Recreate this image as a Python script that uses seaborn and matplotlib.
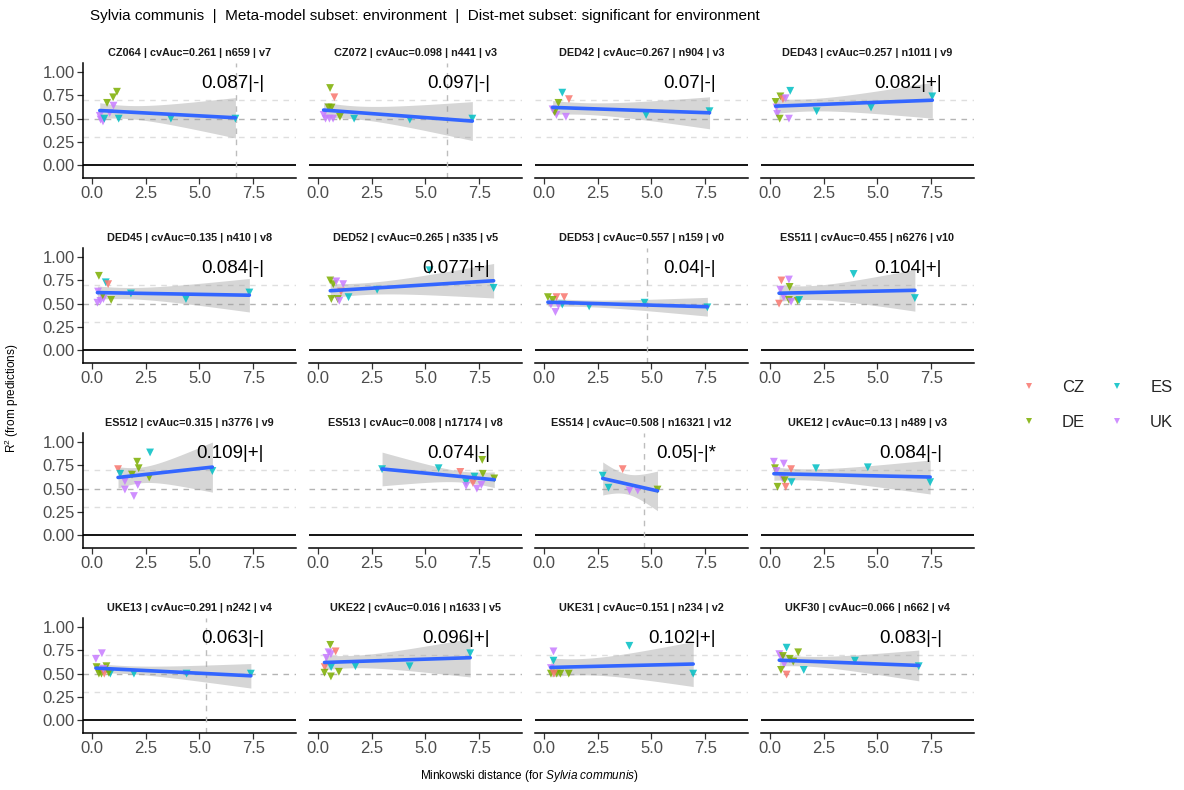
import numpy as np
import pandas as pd
import matplotlib
matplotlib.use("Agg")
import matplotlib.pyplot as plt
import seaborn as sns
from matplotlib.lines import Line2D

# ---------------- data ----------------
countries = ["CZ", "DE", "ES", "UK"]
country_colors = ["#F8766D", "#7CAE00", "#00BFC4", "#C77CFF"]
code_map = {"C": "CZ", "D": "DE", "E": "ES", "U": "UK"}

panels = ["CZ064", "CZ072", "DED42", "DED43", "DED45", "DED52", "DED53", "ES511",
          "ES512", "ES513", "ES514", "UKE12", "UKE13", "UKE22", "UKE31", "UKF30"]
cv_auc = ["0.261", "0.098", "0.267", "0.257", "0.135", "0.265", "0.557", "0.455",
          "0.315", "0.008", "0.508", "0.13", "0.291", "0.016", "0.151", "0.066"]
n_obs = [659, 441, 904, 1011, 410, 335, 159, 6276, 3776, 17174, 16321, 489, 242, 1633, 234, 662]
n_vars = [7, 3, 3, 9, 8, 5, 0, 10, 9, 8, 12, 3, 4, 5, 2, 4]
annot = ["0.087|-|", "0.097|-|", "0.07|-|", "0.082|+|", "0.084|-|", "0.077|+|", "0.04|-|", "0.104|+|",
         "0.109|+|", "0.074|-|", "0.05|-|*", "0.084|-|", "0.063|-|", "0.096|+|", "0.102|+|", "0.083|-|"]
vlines = [6.7, 6.0, None, None, None, None, 4.77, None, None, None, 4.63, None, 5.29, None, None, None]

x_CZ064 = [0.36, 0.40, 0.51, 0.57, 0.70, 0.82, 0.98, 1.00, 1.16, 1.24, 3.67, 6.67]
y_CZ064 = [0.53, 0.49, 0.47, 0.50, 0.67, 0.56, 0.73, 0.64, 0.79, 0.50, 0.50, 0.50]
c_CZ064 = "UUUEDUDUDEEE"

x_CZ072 = [0.56, 0.76, 0.49, 0.63, 0.35, 0.53, 0.70, 1.02, 1.68, 4.27, 7.18, 0.26]
y_CZ072 = [0.83, 0.73, 0.62, 0.62, 0.50, 0.50, 0.50, 0.52, 0.50, 0.49, 0.50, 0.54]
c_CZ072 = "DCDDUUUDEEEU"

x_DED42 = [0.85, 1.16, 0.67, 0.46, 0.58, 1.02, 0.50, 0.40, 4.75, 7.70]
y_DED42 = [0.78, 0.71, 0.67, 0.59, 0.54, 0.52, 0.57, 0.60, 0.54, 0.58]
c_DED42 = "ECDDUUDUEE"

x_DED43 = [0.26, 0.48, 0.60, 0.73, 0.94, 0.33, 0.45, 0.88, 0.30, 2.17, 4.70, 7.55]
y_DED43 = [0.68, 0.74, 0.71, 0.72, 0.80, 0.55, 0.50, 0.50, 0.62, 0.58, 0.62, 0.74]
c_DED43 = "DDCUEUDUUEEE"

x_DED45 = [0.32, 0.64, 0.75, 0.25, 0.39, 0.53, 0.89, 0.28, 0.50, 1.81, 4.37, 7.32]
y_DED45 = [0.80, 0.73, 0.71, 0.51, 0.53, 0.55, 0.54, 0.63, 0.59, 0.61, 0.55, 0.62]
c_DED45 = "DECUUUDUDEEE"

x_DED52 = [0.57, 0.71, 0.85, 1.17, 1.07, 0.62, 0.92, 0.99, 1.42, 2.75, 5.19, 8.17]
y_DED52 = [0.75, 0.71, 0.74, 0.71, 0.63, 0.55, 0.55, 0.53, 0.57, 0.65, 0.86, 0.67]
c_DED52 = "DDUUCDDUEEEE"

x_DED53 = [0.18, 0.58, 0.32, 0.53, 0.94, 0.85, 0.67, 0.40, 2.10, 4.68, 7.60]
y_DED53 = [0.57, 0.57, 0.49, 0.41, 0.57, 0.49, 0.48, 0.54, 0.47, 0.51, 0.46]
c_DED53 = "DCUUCEUDEEE"

x_ES511 = [0.53, 0.88, 0.91, 0.48, 0.64, 0.42, 0.88, 0.98, 1.29, 1.36, 3.89, 6.74]
y_ES511 = [0.75, 0.76, 0.68, 0.65, 0.57, 0.50, 0.54, 0.52, 0.53, 0.54, 0.82, 0.56]
c_ES511 = "CUDUUCDUDEEE"

x_ES512 = [1.21, 1.31, 1.53, 1.53, 2.10, 2.17, 1.95, 2.13, 2.66, 2.70, 5.60, 1.86]
y_ES512 = [0.71, 0.66, 0.58, 0.49, 0.79, 0.72, 0.42, 0.54, 0.62, 0.89, 0.69, 0.65]
c_ES512 = "CEUUDDUUDEED"

x_ES513 = [2.98, 5.61, 6.62, 6.89, 6.89, 7.21, 7.39, 7.60, 7.67, 7.64, 8.20, 7.28]
y_ES513 = [0.71, 0.72, 0.68, 0.57, 0.53, 0.56, 0.50, 0.54, 0.66, 0.81, 0.61, 0.63]
c_ES513 = "EECEUCUUDDDE"

x_ES514 = [2.73, 3.00, 3.66, 3.98, 4.36, 5.28]
y_ES514 = [0.64, 0.51, 0.71, 0.48, 0.48, 0.49]
c_ES514 = "EECUUD"

x_UKE12 = [0.18, 0.64, 0.23, 0.98, 0.58, 0.68, 1.00, 0.35, 0.73, 2.14, 4.55, 7.45, 0.30]
y_UKE12 = [0.79, 0.77, 0.72, 0.71, 0.61, 0.59, 0.57, 0.52, 0.52, 0.72, 0.73, 0.57, 0.69]
c_UKE12 = "UUDCUDEDCEEEU"

x_UKE13 = [0.18, 0.46, 0.21, 0.32, 0.44, 0.57, 0.67, 0.53, 0.85, 1.95, 4.40, 7.39, 0.78]
y_UKE13 = [0.66, 0.72, 0.57, 0.50, 0.50, 0.50, 0.58, 0.55, 0.50, 0.50, 0.50, 0.50, 0.51]
c_UKE13 = "UUDDDCDUEEEED"

x_UKE22 = [0.57, 0.49, 0.60, 0.82, 0.39, 0.31, 0.61, 0.30, 0.60, 0.97, 1.74, 4.26, 7.08]
y_UKE22 = [0.81, 0.73, 0.71, 0.74, 0.67, 0.57, 0.57, 0.51, 0.47, 0.52, 0.58, 0.58, 0.72]
c_UKE22 = "DUUCUCEDDDEEE"

x_UKE31 = [0.44, 0.44, 0.32, 0.32, 0.59, 0.76, 1.15, 0.46, 3.97, 6.94]
y_UKE31 = [0.74, 0.64, 0.56, 0.50, 0.50, 0.50, 0.50, 0.50, 0.80, 0.50]
c_UKE31 = "UEUDDDDCEE"

x_UKF30 = [0.43, 0.54, 0.77, 1.31, 0.92, 0.66, 1.08, 0.51, 0.77, 1.57, 3.95, 6.92, 0.60]
y_UKF30 = [0.71, 0.67, 0.78, 0.73, 0.66, 0.60, 0.63, 0.54, 0.49, 0.54, 0.64, 0.58, 0.69]
c_UKF30 = "UUEDDUDDCEEED"

panel_x = [x_CZ064, x_CZ072, x_DED42, x_DED43, x_DED45, x_DED52, x_DED53, x_ES511,
           x_ES512, x_ES513, x_ES514, x_UKE12, x_UKE13, x_UKE22, x_UKE31, x_UKF30]
panel_y = [y_CZ064, y_CZ072, y_DED42, y_DED43, y_DED45, y_DED52, y_DED53, y_ES511,
           y_ES512, y_ES513, y_ES514, y_UKE12, y_UKE13, y_UKE22, y_UKE31, y_UKF30]
panel_c = [c_CZ064, c_CZ072, c_DED42, c_DED43, c_DED45, c_DED52, c_DED53, c_ES511,
           c_ES512, c_ES513, c_ES514, c_UKE12, c_UKE13, c_UKE22, c_UKE31, c_UKF30]

x_ticks = [0, 2.5, 5, 7.5]
x_ticklabels = ["0.0", "2.5", "5.0", "7.5"]
y_ticks = [0, 0.25, 0.5, 0.75, 1.0]
y_ticklabels = ["0.00", "0.25", "0.50", "0.75", "1.00"]

rows = []
for name, xs, ys, cs in zip(panels, panel_x, panel_y, panel_c):
    for xv, yv, cv in zip(xs, ys, cs):
        rows.append((name, xv, yv, code_map[cv]))
df = pd.DataFrame(rows, columns=["panel", "dist", "r2", "country"])

# t quantiles (0.975) by residual degrees of freedom
T975 = {2: 4.303, 3: 3.182, 4: 2.776, 5: 2.571, 6: 2.447, 7: 2.365, 8: 2.306,
        9: 2.262, 10: 2.228, 11: 2.201, 12: 2.179, 13: 2.160, 14: 2.145}


def lm_band(x, y, grid):
    x = np.asarray(x, float); y = np.asarray(y, float)
    n = len(x)
    X = np.column_stack([np.ones(n), x])
    beta = np.linalg.lstsq(X, y, rcond=None)[0]
    resid = y - X @ beta
    s2 = resid @ resid / (n - 2)
    XtXi = np.linalg.inv(X.T @ X)
    G = np.column_stack([np.ones_like(grid), grid])
    se = np.sqrt(np.einsum("ij,jk,ik->i", G, XtXi, G) * s2)
    fit = G @ beta
    t = T975[n - 2]
    return fit - t * se, fit + t * se


# ---------------- style ----------------
sns.set_style("white")
plt.rcParams["font.family"] = ["Liberation Sans", "DejaVu Sans"]
plt.rcParams["mathtext.fontset"] = "custom"
plt.rcParams["mathtext.rm"] = "Liberation Sans"
plt.rcParams["mathtext.it"] = "Liberation Sans:italic"

W, H = 1184, 790
fig = plt.figure(figsize=(W / 100, H / 100), dpi=100)
fig.patch.set_facecolor("white")

col_left = [83, 309, 535, 761]
row_top = [63, 248, 433, 618]
panel_w, panel_h = 213, 115
XLIM = (-0.42, 9.49)
YLIM = (-0.14, 1.10)
dash = (0, (4, 4))

for i, name in enumerate(panels):
    r, c = divmod(i, 4)
    ax = fig.add_axes([col_left[c] / W, 1 - (row_top[r] + panel_h) / H, panel_w / W, panel_h / H])
    ax.set_facecolor("white")
    sub = df[df["panel"] == name]

    ax.axhline(0.7, color="#DEDEDE", ls=dash, lw=1.0, zorder=1)
    ax.axhline(0.3, color="#DEDEDE", ls=dash, lw=1.0, zorder=1)
    ax.axhline(0.5, color="#B4B4B4", ls=dash, lw=1.0, zorder=1)
    ax.axhline(0.0, color="black", lw=1.3, zorder=1)
    if vlines[i] is not None:
        ax.axvline(vlines[i], color="#BDBDBD", ls=dash, lw=1.0, zorder=1)

    sns.scatterplot(data=sub, x="dist", y="r2", hue="country", hue_order=countries,
                    palette=country_colors, marker="v", s=32, alpha=0.85, linewidth=0,
                    legend=False, ax=ax, zorder=3)

    grid = np.linspace(sub["dist"].min(), sub["dist"].max(), 100)
    lo, hi = lm_band(sub["dist"], sub["r2"], grid)
    ax.fill_between(grid, lo, hi, color="#999999", alpha=0.4, lw=0, zorder=2)
    sns.regplot(data=sub, x="dist", y="r2", scatter=False, ci=None, color="#3366FF",
                line_kws=dict(lw=2.6, zorder=4), truncate=True, ax=ax)

    ax.text(8.0, 0.88, annot[i], ha="right", va="center", fontsize=13.5, color="black", zorder=5)
    title = f"{name} | cvAuc={cv_auc[i]} | n{n_obs[i]} | v{n_vars[i]}"
    ax.text(0.5, 1 + 10 / panel_h, title, transform=ax.transAxes, ha="center", va="center",
            fontsize=7.8, fontweight="bold", color="#1A1A1A")

    ax.set_xlim(*XLIM)
    ax.set_ylim(*YLIM)
    ax.set_xlabel("")
    ax.set_ylabel("")
    for s in ["top", "right"]:
        ax.spines[s].set_visible(False)
    ax.spines["bottom"].set_color("black")
    ax.spines["bottom"].set_linewidth(1.1)
    ax.set_xticks(x_ticks)
    ax.set_xticklabels(x_ticklabels)
    ax.tick_params(axis="x", length=4, width=0.9, color="#333333", labelsize=12,
                   labelcolor="#4D4D4D", pad=2, bottom=True)
    if c == 0:
        ax.spines["left"].set_color("black")
        ax.spines["left"].set_linewidth(1.1)
        ax.set_yticks(y_ticks)
        ax.set_yticklabels(y_ticklabels)
        ax.tick_params(axis="y", length=4, width=0.9, color="#333333", labelsize=12,
                       labelcolor="#4D4D4D", pad=2, left=True)
    else:
        ax.spines["left"].set_visible(False)
        ax.set_yticks([])

# titles and axis labels
fig.text(90 / W, 1 - 16 / H,
         "Sylvia communis  |  Meta-model subset: environment  |  Dist-met subset: significant for environment",
         ha="left", va="center", fontsize=11, color="black")
fig.text(12 / W, 1 - 398 / H, r"R$^{2}$ (from predictions)", rotation=90,
         ha="center", va="center", fontsize=8.5, color="black")
fig.text(529 / W, 1 - 776 / H, r"Minkowski distance (for $\mathit{Sylvia\ communis}$)",
         ha="center", va="center", fontsize=8.5, color="black")

handles = [Line2D([], [], marker="v", ls="", color=col, markersize=5, alpha=0.85, markeredgewidth=0)
           for col in country_colors]
fig.legend(handles, countries, ncol=2, frameon=False, fontsize=12, loc="upper left",
           bbox_to_anchor=(1022 / W, 1 - 380 / H), handlelength=0.8, handletextpad=1.6,
           columnspacing=1.5, labelspacing=1.2, borderaxespad=0, borderpad=0)

fig.savefig("out.png", dpi=100, facecolor="white")
